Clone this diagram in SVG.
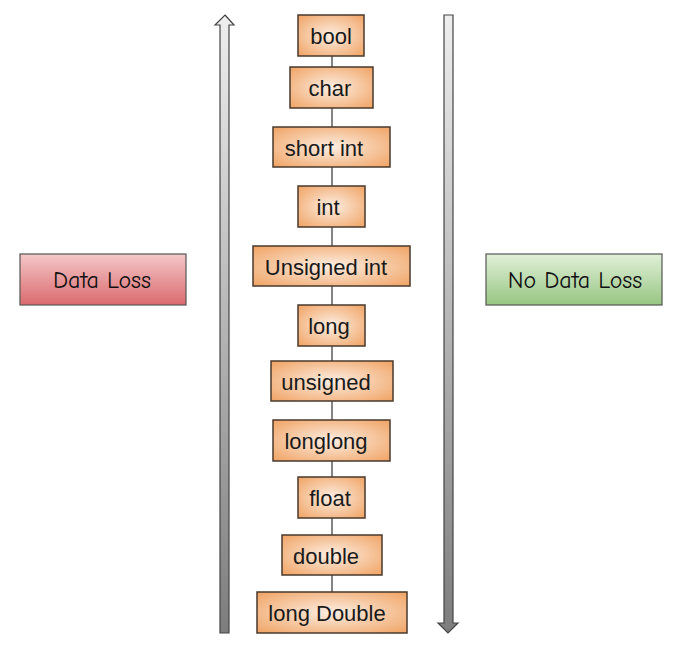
<svg xmlns="http://www.w3.org/2000/svg" width="683" height="650" viewBox="0 0 683 650">
<defs>
<radialGradient id="orange" cx="50%" cy="50%" r="70%">
<stop offset="0" stop-color="#fdeee2"/>
<stop offset="1" stop-color="#f0a364"/>
</radialGradient>
<linearGradient id="red" x1="0" y1="0" x2="0" y2="1">
<stop offset="0" stop-color="#f4c7c8"/>
<stop offset="1" stop-color="#da6a6e"/>
</linearGradient>
<linearGradient id="green" x1="0" y1="0" x2="0" y2="1">
<stop offset="0" stop-color="#e1f0d9"/>
<stop offset="1" stop-color="#97c682"/>
</linearGradient>
<linearGradient id="arrowgrad" gradientUnits="userSpaceOnUse" x1="0" y1="15" x2="0" y2="633">
<stop offset="0" stop-color="#eeeeee"/>
<stop offset="1" stop-color="#7d7d7d"/>
</linearGradient>
</defs>
<style>
.box{fill:url(#orange);stroke:#4a3a2c;stroke-width:1.5}
.lbl{font-family:"Liberation Sans",Arial,sans-serif;font-size:22px;fill:#1a1a1a;text-anchor:middle;dominant-baseline:central}
.side{font-family:"Comic Sans MS","Comic Neue","DejaVu Sans",sans-serif;font-size:24px;fill:#111;text-anchor:middle;dominant-baseline:central}
.arrow{fill:url(#arrowgrad);stroke:#444;stroke-width:1.2}
.conn{stroke:#333;stroke-width:1.2;fill:none}
</style>
<rect width="683" height="650" fill="#ffffff"/>
<g id="arrows">
<polygon class="arrow" points="225,15 234,25 229,25 229,633 220,633 220,25 215,25"/>
<polygon class="arrow" points="444,15 453,15 453,623 458,623 448,633 438,623 444,623"/>
</g>
<g id="connectors">
<line class="conn" x1="332" y1="56" x2="332" y2="592"/>
</g>
<g id="bool"><rect class="box" x="298" y="15" width="66" height="41"/><text class="lbl" x="331" y="36">bool</text></g>
<g id="char"><rect class="box" x="290" y="67" width="83" height="41"/><text class="lbl" x="330" y="88">char</text></g>
<g id="shortint"><rect class="box" x="273" y="127" width="117" height="40"/><text class="lbl" x="324" y="148">short int</text></g>
<g id="int"><rect class="box" x="298" y="186" width="67" height="41"/><text class="lbl" x="328" y="207">int</text></g>
<g id="unsignedint"><rect class="box" x="253" y="246" width="157" height="40"/><text class="lbl" x="326" y="267">Unsigned int</text></g>
<g id="long"><rect class="box" x="298" y="305" width="67" height="41"/><text class="lbl" x="329" y="326">long</text></g>
<g id="unsigned"><rect class="box" x="271" y="361" width="122" height="40"/><text class="lbl" x="326" y="382">unsigned</text></g>
<g id="longlong"><rect class="box" x="273" y="420" width="117" height="41"/><text class="lbl" x="326" y="441">longlong</text></g>
<g id="float"><rect class="box" x="298" y="477" width="67" height="41"/><text class="lbl" x="330" y="498">float</text></g>
<g id="double"><rect class="box" x="282" y="535" width="100" height="40"/><text class="lbl" x="326" y="556">double</text></g>
<g id="longdouble"><rect class="box" x="257" y="592" width="150" height="41"/><text class="lbl" x="327" y="613">long Double</text></g>
<g id="dataloss"><rect x="20" y="254" width="166" height="51" fill="url(#red)" stroke="#555" stroke-width="1.2"/><text class="side" x="102" y="280">Data Loss</text></g>
<g id="nodataloss"><rect x="486" y="254" width="176" height="51" fill="url(#green)" stroke="#555" stroke-width="1.2"/><text class="side" x="575" y="280">No Data Loss</text></g>
</svg>
